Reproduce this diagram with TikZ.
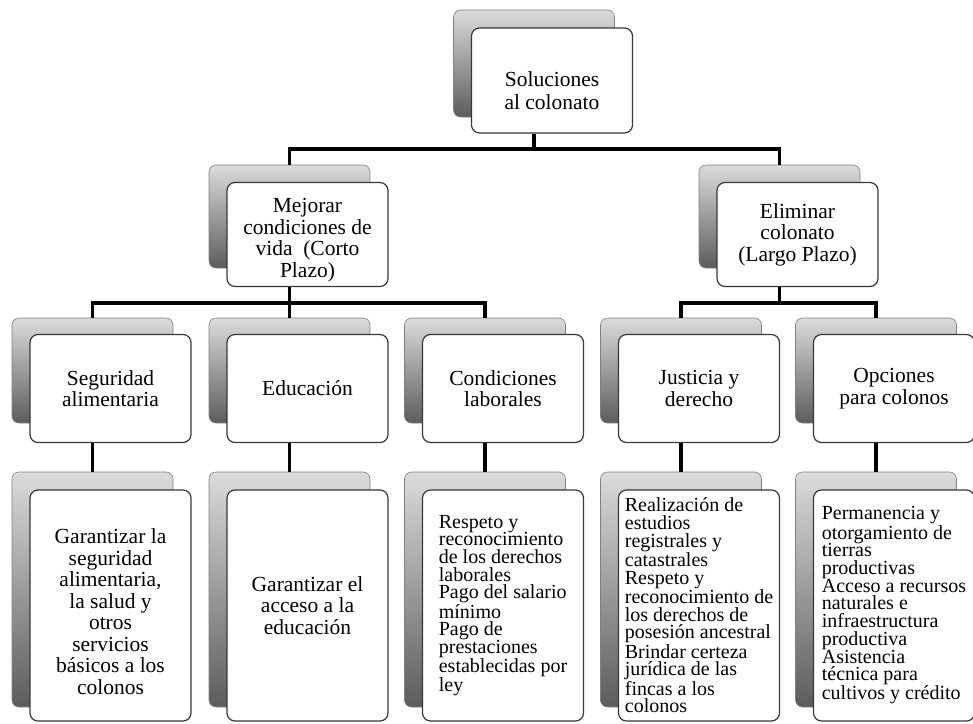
\documentclass[tikz,border=0pt]{standalone}
\usepackage{fontspec}
\setmainfont{Liberation Serif}
\usepackage{tikz}
\usetikzlibrary{positioning,calc}
\newcommand{\bigtxt}{\fontsize{21.5}{21.5}\selectfont}
\newcommand{\listtxt}{\fontsize{20}{17.7}\selectfont}
\newcommand{\lowerby}[1]{\rule{0pt}{#1}}
\begin{document}
\begin{tikzpicture}[x=1pt,y=-1pt,
    shadowbox/.style={draw=black!50,line width=0.6pt,rounded corners=7pt,
                top color=black!14,bottom color=black!64,minimum width=161pt},
    frontbox/.style={draw=black!78,line width=1.2pt,rounded corners=8pt,fill=white,
                minimum width=161pt,align=center,font=\bigtxt,inner sep=2pt},
    listbox/.style={frontbox,align=left,font=\listtxt},
    link/.style={line width=3.2pt}]
    \useasboundingbox (0,0) rectangle (973,723);
    \coordinate (bar0) at (0,149); \coordinate (bar1) at (0,303);
    \node[shadowbox,minimum height=107pt] (sol-s) at (534,63.5) {};
    \node[frontbox,minimum height=105pt,font=\fontsize{21.5}{23}\selectfont] (sol) at ([shift={(18,17)}]sol-s) {\lowerby{35pt}Soluciones\\al colonato};
    \node[shadowbox,minimum height=103pt] (mej-s) at (289.5,216.5) {};
    \node[frontbox,minimum height=104pt] (mej) at ([shift={(18,18)}]mej-s) {\lowerby{26pt}Mejorar\\condiciones de\\vida \ (Corto\\Plazo)};
    \node[shadowbox,minimum height=103pt] (eli-s) at (779.5,216.5) {};
    \node[frontbox,minimum height=104pt] (eli) at ([shift={(18,18)}]eli-s) {Eliminar\\colonato\\(Largo Plazo)};
    \node[shadowbox,minimum height=105pt] (seg-s) at (92.5,370.5) {};
    \node[frontbox,minimum height=108pt] (seg) at ([shift={(18,18)}]seg-s) {Seguridad\\alimentaria};
    \node[shadowbox,minimum height=105pt] (edu-s) at (289.5,370.5) {};
    \node[frontbox,minimum height=108pt] (edu) at ([shift={(18,18)}]edu-s) {Educación};
    \node[shadowbox,minimum height=105pt] (con-s) at (485,370.5) {};
    \node[frontbox,minimum height=108pt] (con) at ([shift={(18,18)}]con-s) {Condiciones\\laborales};
    \node[shadowbox,minimum height=105pt] (jus-s) at (681,370.5) {};
    \node[frontbox,minimum height=108pt] (jus) at ([shift={(18,18)}]jus-s) {Justicia y\\derecho};
    \node[shadowbox,minimum height=105pt] (opc-s) at (876,370.5) {};
    \node[frontbox,minimum height=108pt] (opc) at ([shift={(18,18)}]opc-s) {Opciones\\para colonos};
    \node[shadowbox,minimum height=235pt] (seg-t-s) at (92.5,589.5) {};
    \node[frontbox,minimum height=231pt] (seg-t) at ([shift={(18,16)}]seg-t-s) {\lowerby{27pt}Garantizar la\\seguridad\\alimentaria,\\la salud y\\otros\\servicios\\básicos a los\\colonos};
    \node[shadowbox,minimum height=235pt] (edu-t-s) at (289.5,589.5) {};
    \node[frontbox,minimum height=231pt] (edu-t) at ([shift={(18,16)}]edu-t-s) {Garantizar el\\acceso a la\\educación};
    \node[shadowbox,minimum height=235pt] (con-t-s) at (485,589.5) {};
    \node[listbox,minimum height=231pt] (con-t) at ([shift={(18,16)}]con-t-s) {Respeto y\\reconocimiento\\de los derechos\\laborales\\Pago del salario\\mínimo\\Pago de\\prestaciones\\establecidas por\\ley};
    \node[shadowbox,minimum height=235pt] (jus-t-s) at (681,589.5) {};
    \node[listbox,minimum height=231pt] (jus-t) at ([shift={(18,16)}]jus-t-s) {Realización de\\estudios\\registrales y\\catastrales\\Respeto y\\reconocimiento de\\los derechos de\\posesión ancestral\\Brindar certeza\\jurídica de las\\fincas a los\\colonos};
    \node[shadowbox,minimum height=235pt] (opc-t-s) at (876,589.5) {};
    \node[listbox,minimum height=231pt] (opc-t) at ([shift={(18,16)}]opc-t-s) {Permanencia y\\otorgamiento de\\tierras\\productivas\\Acceso a recursos\\naturales e\\infraestructura\\productiva\\Asistencia\\técnica para\\cultivos y crédito};
    \draw[link] (sol-s |- sol.south) -- (sol-s |- bar0);
    \draw[link] (mej-s.north) |- (eli-s |- bar0) -- (eli-s.north);
    \draw[link] (mej-s |- mej.south) -- (edu-s.north);
    \draw[link] (seg-s.north) |- (con-s |- bar1) -- (con-s.north);
    \draw[link] (eli-s |- eli.south) -- (eli-s |- bar1);
    \draw[link] (jus-s.north) |- (opc-s |- bar1) -- (opc-s.north);
    \foreach \n in {seg,edu,con,jus,opc}
      \draw[link] (\n-s |- \n.south) -- (\n-t-s.north);
\end{tikzpicture}
\end{document}
